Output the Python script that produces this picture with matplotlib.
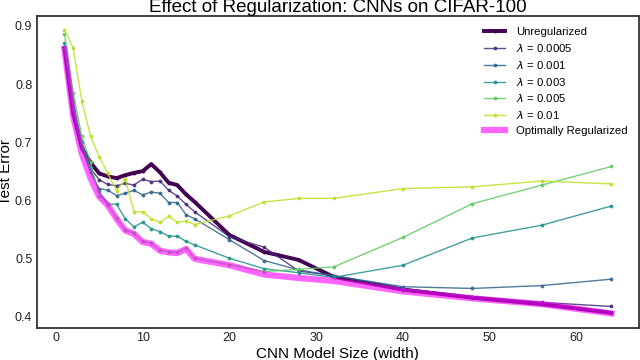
import numpy as np
import matplotlib
matplotlib.use('Agg')
import matplotlib.pyplot as plt

plt.rcParams['font.family'] = ['Liberation Sans', 'DejaVu Sans']

# ancho del modelo
widths = [1, 2, 3, 4, 5, 6, 7, 8, 9, 10, 11, 12, 13, 14, 15, 16, 20, 24, 28, 32, 40, 48, 56, 64]

unreg = [0.862, 0.750, 0.690, 0.665, 0.646, 0.641, 0.638, 0.643, 0.647, 0.650, 0.662, 0.648,
         0.630, 0.626, 0.610, 0.597, 0.540, 0.511, 0.497, 0.468, 0.446, 0.432, 0.421, 0.406]
lam_0005 = [0.860, 0.755, 0.688, 0.655, 0.635, 0.627, 0.625, 0.629, 0.626, 0.636, 0.632, 0.633,
            0.617, 0.607, 0.593, 0.580, 0.537, 0.519, 0.478, 0.470, 0.448, 0.434, 0.424, 0.417]
lam_001 = [0.860, 0.760, 0.690, 0.648, 0.620, 0.617, 0.608, 0.612, 0.617, 0.609, 0.614, 0.612,
           0.596, 0.596, 0.575, 0.568, 0.532, 0.496, 0.480, 0.470, 0.451, 0.448, 0.453, 0.464]
lam_003 = [0.870, 0.770, 0.700, 0.655, 0.615, 0.593, 0.593, 0.568, 0.554, 0.562, 0.551, 0.546,
           0.538, 0.538, 0.529, 0.523, 0.500, 0.482, 0.475, 0.467, 0.488, 0.535, 0.557, 0.590]
lam_005 = [0.886, 0.785, 0.710, 0.665, 0.608, 0.592, 0.569, 0.549, 0.543, 0.529, 0.526, 0.514,
           0.511, 0.510, 0.517, 0.500, 0.489, 0.477, 0.481, 0.485, 0.536, 0.594, 0.626, 0.658]
lam_01 = [0.893, 0.862, 0.771, 0.710, 0.675, 0.646, 0.616, 0.636, 0.580, 0.580, 0.568, 0.562,
          0.572, 0.562, 0.564, 0.558, 0.573, 0.597, 0.603, 0.603, 0.620, 0.623, 0.633, 0.628]
optimal = [0.860, 0.745, 0.680, 0.638, 0.606, 0.591, 0.568, 0.548, 0.542, 0.528, 0.525, 0.513,
           0.510, 0.509, 0.516, 0.499, 0.488, 0.472, 0.466, 0.461, 0.443, 0.431, 0.421, 0.405]

lam_series = [lam_0005, lam_001, lam_003, lam_005, lam_01]
lam_labels = [r'$\lambda$ = 0.0005', r'$\lambda$ = 0.001', r'$\lambda$ = 0.003',
              r'$\lambda$ = 0.005', r'$\lambda$ = 0.01']
colores = ['#472d7b', '#32648e', '#21918c', '#5ec962', '#bddf26']

fig = plt.figure(figsize=(6.4, 3.6), dpi=100)
ax = fig.add_axes([0.058, 0.09, 0.94, 0.866])

ax.plot(widths, unreg, '.-', color='#440154', lw=2.8, ms=3.5, label='Unregularized')
for ys, lab, c in zip(lam_series, lam_labels, colores):
    ax.plot(widths, ys, '.-', color=c, lw=1, ms=3.5, alpha=0.85, label=lab)
ax.plot(widths, optimal, '-', color='magenta', lw=4.5, alpha=0.6, label='Optimally Regularized')

ax.set_xticks([0, 10, 20, 30, 40, 50, 60])
ax.set_yticks([0.4, 0.5, 0.6, 0.7, 0.8, 0.9])
ax.tick_params(length=0, labelsize=9, colors='#222222')
for s in ax.spines.values():
    s.set_color('#333333')
    s.set_linewidth(1.3)

ax.set_xlabel('CNN Model Size (width)', fontsize=11, labelpad=2)
ax.set_ylabel('Test Error', fontsize=11, labelpad=1)
ax.set_title('Effect of Regularization: CNNs on CIFAR-100', fontsize=13.5, pad=1)
ax.legend(loc='upper right', frameon=False, fontsize=8.2, handlelength=1.9,
          handletextpad=0.9, labelspacing=0.42, borderaxespad=0.6)

plt.savefig('out.png', dpi=100)
